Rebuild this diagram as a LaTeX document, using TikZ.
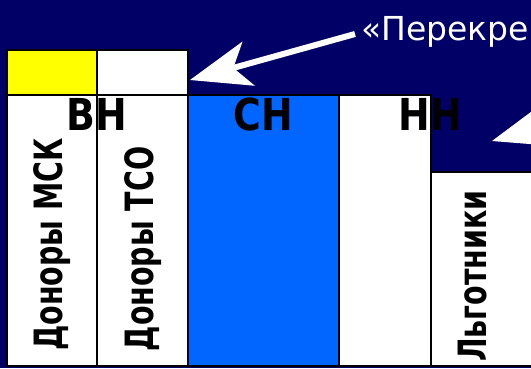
\documentclass[tikz,border=0pt]{standalone}
\usepackage{fontspec}
\setmainfont{DejaVu Sans}
\usetikzlibrary{arrows.meta}
\definecolor{navy}{RGB}{0,0,102}
\definecolor{brightblue}{RGB}{0,102,255}
\definecolor{yel}{RGB}{255,255,0}
\begin{document}
\begin{tikzpicture}[x=1pt,y=-1pt,
  box/.style={draw=black, line width=2pt, inner sep=0pt, outer sep=0pt, anchor=north west},
  hdr/.style={font=\bfseries\fontsize{44}{44}\selectfont, inner sep=0pt, text=black},
  vlabel/.style={font=\bfseries\fontsize{39}{39}\selectfont, rotate=90, inner sep=0pt, text=black},
  bigarrow/.style={draw=white, line width=6pt, -{Stealth[length=61pt,width=46pt,inset=16pt,line width=0pt]}},
]
\useasboundingbox (0,0) rectangle (531,368);
\fill[navy] (0,0) rectangle (531,368);
\begin{scope}
\clip (0,0) rectangle (531,368);
% top small boxes
\node[box, fill=yel, minimum width=90pt, minimum height=45pt] (ybox) at (7,50) {};
\node[box, fill=white, minimum width=91pt, minimum height=45pt] (wbox) at (97,50) {};
% columns
\node[box, fill=white, minimum width=90pt, minimum height=271pt] (c1) at (7,95) {};
\node[box, fill=white, minimum width=91pt, minimum height=271pt] (c2) at (97,95) {};
\node[box, fill=brightblue, minimum width=151pt, minimum height=271pt] (c3) at (188,95) {};
\node[box, fill=white, minimum width=92pt, minimum height=271pt] (c4) at (339,95) {};
\node[box, fill=white, minimum width=120pt, minimum height=194pt] (c5) at (431,172) {};
% headers
\node[hdr] (vn) at (97,114) {\scalebox{0.86}[1]{ВН}};
\node[hdr] (sn) at (263,114) {\scalebox{0.86}[1]{СН}};
\node[hdr] (nn) at (430,114) {\scalebox{0.86}[1]{НН}};
% vertical labels
\node[vlabel] (l1) at (52,244.5) {\scalebox{0.73}[1]{Доноры МСК}};
\node[vlabel] (l2) at (143,249) {\scalebox{0.73}[1]{Доноры ТСО}};
\node[vlabel] (l3) at (472.5,276) {\scalebox{0.73}[1]{Льготники}};
% caption text
\node[font=\fontsize{33}{33}\selectfont, text=white, anchor=base west, inner sep=0pt] (cs) at (361,40) {«Перекре};
% arrows
\coordinate (a1s) at (355,34);
\coordinate (a1t) at (190,80);
\draw[bigarrow] (a1s) -- (a1t);
\coordinate (a2s) at (655,94);
\coordinate (a2t) at (492,141);
\draw[bigarrow] (a2s) -- (a2t);
\end{scope}
\end{tikzpicture}
\end{document}
